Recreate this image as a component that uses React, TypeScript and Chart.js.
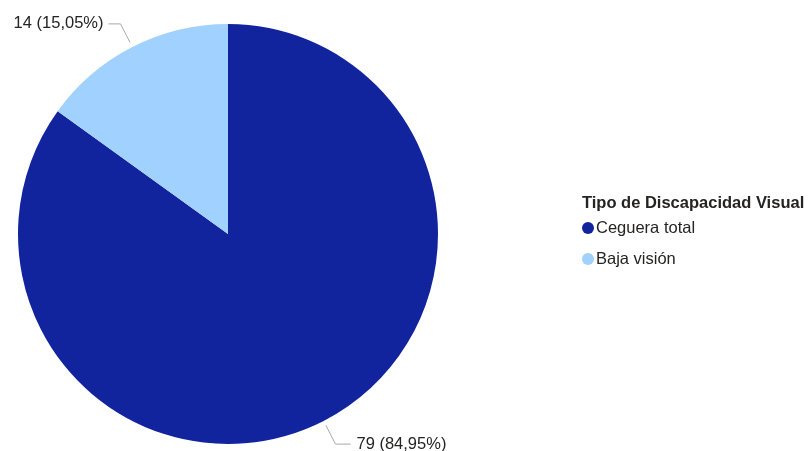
import React, { useEffect, useRef } from "react";
import { Chart, registerables } from "chart.js";

Chart.register(...registerables);

const categories = ["Ceguera total", "Baja visión"];
const counts = [79, 14];
const sliceColors = ["#12239E", "#A0D1FF"];
const legendTitle = "Tipo de Discapacidad Visual";

const FONT = '"Liberation Sans", Arial, sans-serif';
const TEXT_COLOR = "#252423";
const LEADER_COLOR = "#A8A8A8";

function formatLabel(value: number, total: number) {
  const pct = ((value / total) * 100).toFixed(2).replace(".", ",");
  return `${value} (${pct}%)`;
}

// Leader lines and "value (percent)" labels outside each slice
const outsideLabels = {
  id: "outsideLabels",
  afterDatasetsDraw(chart: any) {
    const meta = chart.getDatasetMeta(0);
    const data: number[] = chart.data.datasets[0].data;
    const total = data.reduce((a, b) => a + b, 0);
    const ctx = chart.ctx;
    ctx.save();
    meta.data.forEach((arc: any, i: number) => {
      const { x, y, startAngle, endAngle, outerRadius } = arc.getProps(
        ["x", "y", "startAngle", "endAngle", "outerRadius"],
        true
      );
      const mid = (startAngle + endAngle) / 2;
      const cos = Math.cos(mid);
      const sin = Math.sin(mid);
      const p0x = x + cos * (outerRadius + 5);
      const p0y = y + sin * (outerRadius + 5);
      const p1x = x + cos * (outerRadius + 26);
      const p1y = y + sin * (outerRadius + 26);
      const right = cos >= 0;
      const p2x = p1x + (right ? 15 : -12);
      ctx.beginPath();
      ctx.strokeStyle = LEADER_COLOR;
      ctx.lineWidth = 1;
      ctx.moveTo(p0x, p0y);
      ctx.lineTo(p1x, p1y);
      ctx.lineTo(p2x, p1y);
      ctx.stroke();
      ctx.font = `16.5px ${FONT}`;
      ctx.fillStyle = TEXT_COLOR;
      ctx.textBaseline = "middle";
      ctx.textAlign = right ? "left" : "right";
      ctx.fillText(formatLabel(data[i], total), p2x + (right ? 6 : -5), p1y);
    });
    ctx.restore();
  },
};

// Legend with title on the right side
const sideLegend = {
  id: "sideLegend",
  afterDraw(chart: any) {
    const ctx = chart.ctx;
    const labels: string[] = chart.data.labels;
    const colors: string[] = chart.data.datasets[0].backgroundColor;
    const left = 582;
    ctx.save();
    ctx.textBaseline = "middle";
    ctx.textAlign = "left";
    ctx.fillStyle = TEXT_COLOR;
    ctx.font = `bold 16.5px ${FONT}`;
    ctx.fillText(legendTitle, left, 203);
    ctx.font = `16.5px ${FONT}`;
    labels.forEach((label, i) => {
      const cy = 228 + i * 31;
      ctx.beginPath();
      ctx.fillStyle = colors[i];
      ctx.arc(left + 6, cy, 6, 0, Math.PI * 2);
      ctx.fill();
      ctx.fillStyle = TEXT_COLOR;
      ctx.fillText(label, left + 14, cy);
    });
    ctx.restore();
  },
};

export default function App() {
  const canvasRef = useRef<HTMLCanvasElement | null>(null);

  useEffect(() => {
    if (!canvasRef.current) return;
    const chart = new Chart(canvasRef.current, {
      type: "pie",
      data: {
        labels: categories,
        datasets: [
          {
            data: counts,
            backgroundColor: sliceColors,
            borderWidth: 0,
          },
        ],
      },
      options: {
        responsive: false,
        animation: false,
        layout: { padding: { left: 18, top: 24, right: 371, bottom: 7 } },
        plugins: {
          legend: { display: false },
          tooltip: { enabled: false },
        },
      },
      plugins: [outsideLabels, sideLegend],
    });
    return () => chart.destroy();
  }, []);

  return (
    <div style={{ position: "fixed", left: 0, top: 0, width: 809, height: 451, background: "#fff" }}>
      <canvas ref={canvasRef} width={809} height={451} />
    </div>
  );
}
